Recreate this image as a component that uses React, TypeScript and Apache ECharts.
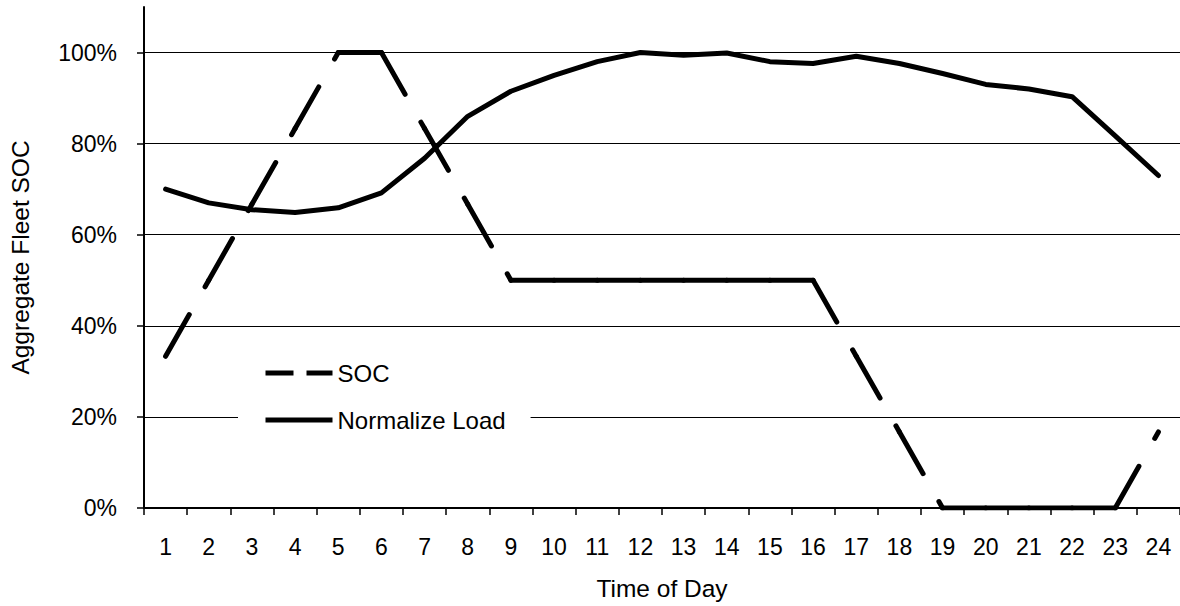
import React, { useEffect, useRef } from 'react';
import * as echarts from 'echarts';

const hours = ['1', '2', '3', '4', '5', '6', '7', '8', '9', '10', '11', '12', '13', '14', '15', '16', '17', '18', '19', '20', '21', '22', '23', '24'];
const socValues = [33.3, 50, 66.7, 83.3, 100, 100, 83.3, 66.7, 50, 50, 50, 50, 50, 50, 50, 50, 33.3, 16.7, 0, 0, 0, 0, 0, 16.7];
const loadValues = [70, 67, 65.5, 64.9, 65.9, 69.2, 76.8, 86, 91.5, 95, 98, 100, 99.4, 99.9, 98, 97.6, 99.2, 97.6, 95.4, 93, 92, 90.3, 81.7, 73];
const yTicks = [0, 20, 40, 60, 80, 100];

const FONT = "'Liberation Sans', Arial, sans-serif";

export default function App() {
  const ref = useRef<HTMLDivElement>(null);
  useEffect(() => {
    if (!ref.current) return;
    const chart = echarts.init(ref.current, undefined, { renderer: 'svg' });
    const socSegments = socValues.slice(0, -1).map((_, i) => ({
      name: 'SOC',
      type: 'line',
      symbol: 'none',
      showSymbol: false,
      silent: true,
      connectNulls: false,
      itemStyle: { color: '#000' },
      data: socValues.map((v, j) => (j === i || j === i + 1 ? v : '-')),
      lineStyle: { color: '#000', width: 5, type: [48, 32], cap: 'round', join: 'round' },
    }));
    const hiddenDot = { color: 'rgba(0,0,0,0)', borderColor: 'rgba(0,0,0,0)', borderWidth: 0, opacity: 0 };
    chart.setOption({
      animation: false,
      backgroundColor: '#fff',
      textStyle: { fontFamily: FONT },
      grid: { left: 144, top: 7, width: 1040, height: 502, containLabel: false },
      legend: {
        orient: 'vertical',
        left: 238,
        top: 350,
        padding: [11, 25, 10, 25],
        backgroundColor: '#fff',
        itemWidth: 67,
        itemHeight: 14,
        itemGap: 23,
        selectedMode: false,
        textStyle: { fontSize: 24, color: '#000', fontFamily: FONT },
        data: [
          { name: 'SOC', itemStyle: hiddenDot, lineStyle: { type: [28, 13], cap: 'butt', width: 5, color: '#000' } },
          { name: 'Normalize Load', itemStyle: hiddenDot, lineStyle: { cap: 'butt', width: 5, color: '#000' } },
        ],
      },
      xAxis: {
        type: 'category',
        data: hours,
        boundaryGap: true,
        axisLine: { lineStyle: { color: '#000', width: 2 } },
        axisTick: { show: true, length: 7, lineStyle: { color: '#000', width: 1.5 } },
        axisLabel: { interval: 0, fontSize: 23, color: '#000', margin: 27, fontFamily: FONT },
        splitLine: { show: false },
        name: 'Time of Day',
        nameLocation: 'middle',
        nameGap: 68,
        nameTextStyle: { fontSize: 24.5, color: '#000', fontFamily: FONT },
      },
      yAxis: {
        type: 'value',
        min: 0,
        max: 110,
        interval: 20,
        axisLine: { show: true, lineStyle: { color: '#000', width: 2 } },
        axisTick: { show: true, length: 7, customValues: yTicks, lineStyle: { color: '#000', width: 1.5 } },
        axisLabel: { customValues: yTicks, formatter: '{value}%', fontSize: 23, color: '#000', margin: 27, fontFamily: FONT },
        splitLine: {
          show: true,
          lineStyle: { color: ['#000', '#000', '#000', '#000', '#000', '#000', '#a0a0a0'], width: 1 },
        },
        name: 'Aggregate Fleet SOC',
        nameLocation: 'middle',
        nameGap: 111,
        nameTextStyle: { fontSize: 24.5, color: '#000', fontFamily: FONT },
      },
      series: [
        ...socSegments,
        {
          name: 'Normalize Load',
          type: 'line',
          symbol: 'none',
          showSymbol: false,
          silent: true,
          itemStyle: { color: '#000' },
          data: loadValues,
          lineStyle: { color: '#000', width: 5, cap: 'round', join: 'round' },
        },
      ],
    });
    return () => chart.dispose();
  }, []);
  return <div ref={ref} style={{ position: 'absolute', left: 0, top: 0, width: 1180, height: 606 }} />;
}
